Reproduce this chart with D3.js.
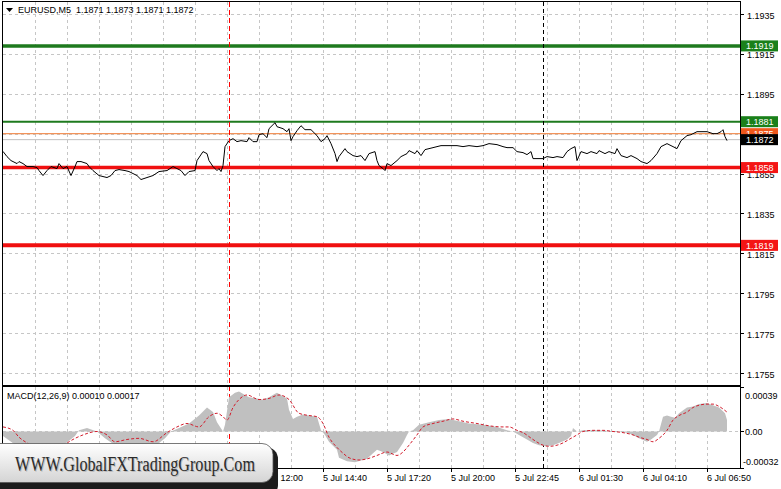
<!DOCTYPE html>
<html><head><meta charset="utf-8">
<script src="https://cdn.jsdelivr.net/npm/d3@7"></script>
<style>body{margin:0;background:#fff;} svg{display:block;font-family:"Liberation Sans",Arial,sans-serif;}</style>
</head><body><svg id="c" width="781" height="489"></svg>
<script>
// ---------------- data ----------------
const symbolTitle = "EURUSD,M5";
const ohlc = ["1.1871", "1.1873", "1.1871", "1.1872"];
const macdTitle = "MACD(12,26,9)";
const macdReadout = ["0.00010", "0.00017"];

const barIndex = [0,2,4,5,7,8,10,12,15,17,18,20,22,24,27,28,30,32,34,36,37,39,42,43,45,48,52,54,56,58,61,63,67,69,72,75,78,82,85,87,89,91,93,96,97,100,102,103,105,107,108,109,110,111,113,115,117,119,122,123,125,127,128,130,132,133,136,137,140,142,143,144,145,147,149,151,154,157,159,161,162,164,166,167,168,171,172,175,177,179,181,183,186,187,188,190,191,192,194,197,199,202,203,206,207,209,211,213,217,219,222,224,227,230,233,237,240,243,247,250,252,255,257,260,262,264,265,270,272,275,277,280,282,284,286,287,289,292,294,297,298,301,303,306,307,309,312,314,317,319,322,324,327,329,332,334,337,339,342,344,347,349,352,355,357,359,360,361,362];
const closePrice = [1.18661,1.18635,1.18615,1.18610,1.18600,1.18610,1.18600,1.18585,1.18585,1.18580,1.18565,1.18540,1.18565,1.18585,1.18575,1.18600,1.18575,1.18585,1.18540,1.18585,1.18610,1.18610,1.18600,1.18585,1.18565,1.18540,1.18530,1.18540,1.18565,1.18570,1.18565,1.18560,1.18540,1.18520,1.18530,1.18540,1.18560,1.18565,1.18585,1.18575,1.18565,1.18540,1.18560,1.18565,1.18615,1.18660,1.18650,1.18615,1.18585,1.18565,1.18575,1.18560,1.18590,1.18685,1.18715,1.18725,1.18710,1.18715,1.18710,1.18730,1.18710,1.18710,1.18745,1.18750,1.18730,1.18775,1.18805,1.18785,1.18775,1.18760,1.18775,1.18715,1.18735,1.18765,1.18790,1.18770,1.18770,1.18740,1.18710,1.18725,1.18740,1.18700,1.18650,1.18610,1.18635,1.18675,1.18660,1.18640,1.18635,1.18640,1.18615,1.18650,1.18660,1.18615,1.18590,1.18575,1.18565,1.18600,1.18590,1.18615,1.18635,1.18650,1.18665,1.18650,1.18665,1.18640,1.18670,1.18675,1.18685,1.18690,1.18690,1.18690,1.18690,1.18685,1.18690,1.18685,1.18690,1.18700,1.18695,1.18685,1.18680,1.18680,1.18660,1.18655,1.18645,1.18660,1.18625,1.18625,1.18635,1.18630,1.18635,1.18630,1.18660,1.18675,1.18685,1.18615,1.18660,1.18650,1.18660,1.18650,1.18665,1.18650,1.18660,1.18650,1.18675,1.18640,1.18630,1.18640,1.18625,1.18610,1.18600,1.18615,1.18650,1.18685,1.18700,1.18690,1.18675,1.18715,1.18740,1.18745,1.18760,1.18760,1.18760,1.18750,1.18750,1.18760,1.18770,1.18735,1.18715];

const macdIndex = [0,4,8,16,24,31,36,38,42,47,51,56,63,71,76,81,84,88,93,98,102,105,107,110,111,113,116,118,121,123,127,130,133,136,137,140,142,143,145,147,150,153,157,159,161,163,167,168,172,176,182,185,187,190,193,197,200,202,203,205,208,213,218,223,228,233,240,247,252,255,258,262,265,268,272,275,278,282,284,285,287,290,298,306,312,315,318,322,324,327,328,330,332,334,336,338,342,345,348,352,355,358,361,362];
const macdMain = [-0.00004,-0.00009,-0.00014,-0.00018,-0.00016,-0.00011,-0.00004,0.00001,0.00003,0.00000,-0.00006,-0.00012,-0.00016,-0.00016,-0.00013,-0.00006,0.00000,0.00003,0.00007,0.00014,0.00021,0.00017,0.00008,0.00000,0.00006,0.00030,0.00034,0.00035,0.00032,0.00030,0.00029,0.00028,0.00030,0.00033,0.00034,0.00031,0.00029,0.00019,0.00011,0.00013,0.00015,0.00014,0.00013,0.00001,-0.00003,-0.00009,-0.00016,-0.00023,-0.00026,-0.00027,-0.00024,-0.00019,-0.00016,-0.00018,-0.00021,-0.00018,-0.00010,-0.00003,0.00000,0.00001,0.00006,0.00008,0.00010,0.00011,0.00009,0.00007,0.00006,0.00004,0.00001,0.00000,-0.00003,-0.00007,-0.00010,-0.00012,-0.00013,-0.00012,-0.00010,-0.00007,-0.00004,0.00003,0.00000,0.00001,0.00001,0.00000,-0.00001,-0.00003,-0.00006,-0.00009,-0.00007,-0.00003,0.00000,0.00013,0.00014,0.00013,0.00012,0.00016,0.00021,0.00022,0.00024,0.00025,0.00023,0.00021,0.00016,0.00010];

const signalIndex = [0,5,8,12,18,26,33,40,47,52,56,62,68,75,82,87,92,98,103,107,110,112,115,118,122,128,133,138,143,148,153,157,160,163,167,170,173,178,182,187,192,197,200,203,207,210,215,220,225,230,237,243,250,253,257,260,265,270,273,277,280,283,287,290,295,300,305,310,315,318,322,325,328,332,335,338,342,345,348,352,355,358,362];
const macdSignal = [0.00004,0.00001,-0.00005,-0.00010,-0.00016,-0.00018,-0.00009,-0.00003,0.00000,-0.00003,-0.00009,-0.00007,-0.00006,-0.00009,-0.00001,0.00004,0.00007,0.00004,0.00013,0.00016,0.00013,0.00010,0.00021,0.00028,0.00032,0.00028,0.00029,0.00032,0.00028,0.00016,0.00014,0.00013,0.00007,-0.00005,-0.00014,-0.00019,-0.00023,-0.00025,-0.00024,-0.00021,-0.00018,-0.00021,-0.00018,-0.00012,-0.00003,0.00004,0.00007,0.00009,0.00011,0.00009,0.00007,0.00005,0.00004,0.00004,0.00001,-0.00001,-0.00007,-0.00012,-0.00013,-0.00012,-0.00010,-0.00007,-0.00003,0.00000,0.00001,0.00001,0.00000,-0.00001,-0.00003,-0.00005,-0.00007,-0.00009,-0.00006,0.00001,0.00010,0.00014,0.00017,0.00021,0.00023,0.00024,0.00024,0.00022,0.00017];

const priceTicks = [1.1935, 1.1915, 1.1895, 1.1875, 1.1855, 1.1835, 1.1815, 1.1795, 1.1775, 1.1755];
const priceTickLabels = ["1.1935", "1.1915", "1.1895", "", "1.1855", "1.1835", "1.1815", "1.1795", "1.1775", "1.1755"];
const macdTicks = [0.00039, 0.00, -0.00032];
const macdTickLabels = ["0.00039", "0.00", "-0.00032"];
const timeTickIndex = [128, 160, 192, 224, 256, 288, 320, 352];
const timeTickLabels = ["5 Jul 12:00", "5 Jul 14:40", "5 Jul 17:20", "5 Jul 20:00", "5 Jul 22:45", "6 Jul 01:30", "6 Jul 04:10", "6 Jul 06:50"];
const levelValues = [1.1919, 1.1881, 1.1858, 1.1819];
const levelLabels = ["1.1919", "1.1881", "1.1858", "1.1819"];
const orangeLevel = 1.1875;
const bidPrice = 1.1872;
const separatorIndex = [113, 270];
const watermarkText = "WWW.GlobalFXTradingGroup.Com";

// ---------------- styles ----------------
const levelStyle = [
  {color: "#1e7a1e", box: "#1a801a", width: 3.5},
  {color: "#1e7a1e", box: "#1a801a", width: 2},
  {color: "#f01010", box: "#f41515", width: 3.5},
  {color: "#f01010", box: "#f41515", width: 4}
];
const separatorStyle = [{color: "#ff0000", dash: "5,3"}, {color: "#000000", dash: "4,3"}];

// ---------------- scales ----------------
const svg = d3.select("#c");
const left = 3, right = 740;
const x = d3.scaleLinear().domain([0, 368.5]).range([left, right]);
const y = d3.scaleLinear().domain([1.1755, 1.1935]).range([373, 14]);
const ym = d3.scaleLinear().domain([-0.00032, 0.00039]).range([468, 387]);
const mainTop = 2, mainBot = 385, macdTop = 387, macdBot = 468;

svg.append("rect").attr("width", 781).attr("height", 489).attr("fill", "#fff");

const defs = svg.append("defs");
defs.append("clipPath").attr("id", "cm").append("rect")
  .attr("x", left).attr("y", mainTop).attr("width", right - left).attr("height", mainBot - mainTop);
defs.append("clipPath").attr("id", "cd").append("rect")
  .attr("x", left).attr("y", macdTop).attr("width", right - left).attr("height", macdBot - macdTop);
defs.append("clipPath").attr("id", "ct").append("rect")
  .attr("x", 277).attr("y", 468).attr("width", 504).attr("height", 21);

const gridColor = "#c6c6c6";
// vertical grid
const gridIdx = d3.range(16, 368, 16);
[[mainTop, mainBot], [macdTop, macdBot]].forEach(([a, b]) => {
  svg.append("g").selectAll("line").data(gridIdx).join("line")
    .attr("x1", d => Math.round(x(d)) + 0.5).attr("x2", d => Math.round(x(d)) + 0.5)
    .attr("y1", a).attr("y2", b)
    .attr("stroke", gridColor).attr("stroke-dasharray", "3,3").attr("stroke-width", 1);
});
// horizontal grid (main)
svg.append("g").selectAll("line").data(priceTicks).join("line")
  .attr("x1", left).attr("x2", right)
  .attr("y1", d => Math.round(y(d)) + 0.5).attr("y2", d => Math.round(y(d)) + 0.5)
  .attr("stroke", gridColor).attr("stroke-dasharray", "3,3");

// levels
const gm = svg.append("g").attr("clip-path", "url(#cm)");
gm.append("line").attr("x1", left).attr("x2", right)
  .attr("y1", y(bidPrice)).attr("y2", y(bidPrice))
  .attr("stroke", "#c0c0c0").attr("stroke-width", 1);
gm.append("line").attr("x1", left).attr("x2", right)
  .attr("y1", y(orangeLevel)).attr("y2", y(orangeLevel))
  .attr("stroke", "#f2935a").attr("stroke-width", 1.2);
gm.selectAll("line.lvl").data(levelValues).join("line").attr("class", "lvl")
  .attr("x1", left).attr("x2", right)
  .attr("y1", d => y(d)).attr("y2", d => y(d))
  .attr("stroke", (d, i) => levelStyle[i].color)
  .attr("stroke-width", (d, i) => levelStyle[i].width);

// separators (drawn above levels)
svg.append("g").selectAll("line").data(separatorIndex).join("line")
  .attr("x1", d => Math.round(x(d)) + 0.5).attr("x2", d => Math.round(x(d)) + 0.5)
  .attr("y1", mainTop).attr("y2", macdBot)
  .attr("stroke", (d, i) => separatorStyle[i].color)
  .attr("stroke-dasharray", (d, i) => separatorStyle[i].dash).attr("stroke-width", 1);

// price line
const priceData = barIndex.map((b, i) => [b, closePrice[i]]);
gm.append("path").datum(priceData)
  .attr("d", d3.line().x(d => x(d[0])).y(d => y(d[1])))
  .attr("fill", "none").attr("stroke", "#000").attr("stroke-width", 1);

// MACD
const gd = svg.append("g").attr("clip-path", "url(#cd)");
gd.append("line").attr("x1", left).attr("x2", right)
  .attr("y1", Math.round(ym(0)) + 0.5).attr("y2", Math.round(ym(0)) + 0.5)
  .attr("stroke", gridColor).attr("stroke-dasharray", "3,3");
const histData = macdIndex.map((b, i) => [b, macdMain[i]]);
gd.append("path").datum(histData)
  .attr("d", d3.area().x(d => x(d[0])).y0(ym(0)).y1(d => ym(d[1])))
  .attr("fill", "#c0c0c0");
const sigData = signalIndex.map((b, i) => [b, macdSignal[i]]);
gd.append("path").datum(sigData)
  .attr("d", d3.line().curve(d3.curveMonotoneX).x(d => x(d[0])).y(d => ym(d[1])))
  .attr("fill", "none").attr("stroke", "#d21c2c").attr("stroke-width", 1)
  .attr("stroke-dasharray", "3,2");

// panel borders
svg.append("rect").attr("x", left - 0.5).attr("y", mainTop - 0.5)
  .attr("width", right - left + 1).attr("height", mainBot - mainTop + 1)
  .attr("fill", "none").attr("stroke", "#000");
svg.append("rect").attr("x", left - 0.5).attr("y", macdTop - 0.5)
  .attr("width", right - left + 1).attr("height", macdBot - macdTop + 1)
  .attr("fill", "none").attr("stroke", "#000");

// price axis
const fs = 9;
const pa = svg.append("g");
pa.selectAll("line").data(priceTicks).join("line")
  .attr("x1", right).attr("x2", right + 4)
  .attr("y1", d => Math.round(y(d)) + 0.5).attr("y2", d => Math.round(y(d)) + 0.5)
  .attr("stroke", "#000");
pa.selectAll("text").data(priceTicks).join("text")
  .attr("x", 747).attr("y", d => y(d) + 4.5)
  .attr("font-size", fs).attr("fill", "#000")
  .text((d, i) => priceTickLabels[i]);

// macd axis
const ma = svg.append("g");
ma.selectAll("line").data(macdTicks).join("line")
  .attr("x1", right).attr("x2", right + 4)
  .attr("y1", d => Math.round(ym(d)) + 0.5).attr("y2", d => Math.round(ym(d)) + 0.5)
  .attr("stroke", "#000");
ma.selectAll("text").data(macdTicks).join("text")
  .attr("x", (d, i) => i === 2 ? 743 : 745)
  .attr("y", (d, i) => i === 0 ? ym(d) + 12 : (i === 2 ? ym(d) - 3 : ym(d) + 4))
  .attr("font-size", fs).attr("fill", "#000")
  .text((d, i) => macdTickLabels[i]);

// time axis
const ta = svg.append("g");
ta.selectAll("line").data(timeTickIndex).join("line")
  .attr("x1", d => Math.round(x(d)) + 0.5).attr("x2", d => Math.round(x(d)) + 0.5)
  .attr("y1", macdBot).attr("y2", macdBot + 4).attr("stroke", "#000");
ta.append("g").attr("clip-path", "url(#ct)")
  .selectAll("text").data(timeTickIndex).join("text")
  .attr("x", d => x(d)).attr("y", 481)
  .attr("font-size", fs).attr("fill", "#000")
  .text((d, i) => timeTickLabels[i]);

// level labels on axis
const lb = svg.append("g");
function tag(v, label, fill, color) {
  const cy = y(v);
  lb.append("rect").attr("x", 741).attr("y", cy - 5.5).attr("width", 37).attr("height", 11).attr("fill", fill);
  lb.append("text").attr("x", 746).attr("y", cy + 3.5).attr("font-size", fs).attr("fill", color).text(label);
}
levelValues.forEach((v, i) => tag(v, levelLabels[i], levelStyle[i].box, "#fff"));
tag(orangeLevel, orangeLevel.toFixed(4), "#f0581c", "#fff");
tag(bidPrice, bidPrice.toFixed(4), "#000", "#fff");

// title
svg.append("path").attr("d", "M6,8 L13,8 L9.5,12 Z").attr("fill", "#000");
svg.append("text").attr("x", 18).attr("y", 13).attr("font-size", fs).attr("fill", "#000")
  .attr("xml:space", "preserve")
  .text(symbolTitle + "  " + ohlc.join(" "));
svg.append("text").attr("x", 7).attr("y", 399).attr("font-size", fs).attr("fill", "#000")
  .text(macdTitle + " " + macdReadout.join(" "));

// watermark
const grad = defs.append("linearGradient").attr("id", "wg").attr("x1", 0).attr("y1", 0).attr("x2", 0).attr("y2", 1);
grad.append("stop").attr("offset", "0%").attr("stop-color", "#ffffff");
grad.append("stop").attr("offset", "100%").attr("stop-color", "#d4d4d4");
svg.append("rect").attr("x", -14).attr("y", 447).attr("width", 292).attr("height", 50)
  .attr("rx", 12).attr("fill", "#1c1c1c");
svg.append("rect").attr("x", -14).attr("y", 443.5).attr("width", 287).attr("height", 39)
  .attr("rx", 11).attr("fill", "url(#wg)").attr("stroke", "#555").attr("stroke-width", 0.8);
svg.append("text").attr("x", 16).attr("y", 471.5)
  .attr("font-family", "'Liberation Serif','Times New Roman',serif").attr("font-size", 20)
  .attr("textLength", 240).attr("lengthAdjust", "spacingAndGlyphs")
  .attr("fill", "#bbb").text(watermarkText);
svg.append("text").attr("x", 15).attr("y", 470.5)
  .attr("font-family", "'Liberation Serif','Times New Roman',serif").attr("font-size", 20)
  .attr("textLength", 240).attr("lengthAdjust", "spacingAndGlyphs")
  .attr("fill", "#2b2b2b").text(watermarkText);
</script>
</body></html>
